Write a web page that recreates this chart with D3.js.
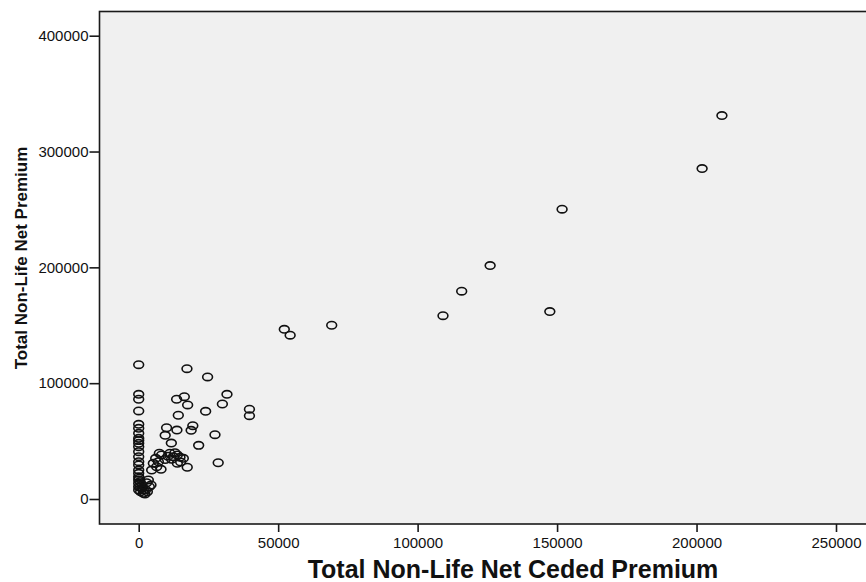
<!DOCTYPE html>
<html>
<head>
<meta charset="utf-8">
<script src="https://cdn.jsdelivr.net/npm/d3@7"></script>
<style>
  body { margin: 0; background: #fff; }
  svg { display: block; font-family: Arial, "Liberation Sans", sans-serif; }
</style>
</head>
<body>
<div id="chart"></div>
<script>
// values: x = net ceded premium, y = net premium
var cededPremium = [
    // column at zero ceded
    0, 0, 0, 0, 0, 0, 0, 0, 0, 0, 0, 0, 0, 0, 0, 0, 0, 0, 0, 0, 0, 0,
    // upper scatter
    17300, 24700, 13600, 16350, 17550, 14200, 24000, 31650, 30000, 39700, 39700,
    10000, 13700, 9500, 19400, 18800, 11700, 21500, 27350, 28500, 17400,
    // middle cluster
    6100, 7400, 8200, 5250, 7050, 4650, 6450, 8000, 11200, 12400, 13850, 14800,
    16000, 11800, 13850, 15050, 13000, 9500, 10500,
    // bottom of the V
    1100, 1650, 2250, 3100, 3800, 4400, 3450, 2850, 500, 500, 200, 700, 1650, 2500, 1200,
    // large companies
    52200, 54300, 69200, 109100, 115800, 126000, 147400, 151800, 202000, 209100
];
var netPremium = [
    116000, 90400, 86100, 76000, 64500, 61000, 56700, 52400, 50400, 48100, 45200,
    40900, 36500, 32200, 29400, 25000, 22200, 19300, 16400, 13550, 10600, 7800,
    112500, 105400, 86100, 88350, 81200, 72300, 75700, 90400, 82000, 77500, 71900,
    61500, 59500, 55000, 63300, 59300, 48300, 46300, 55500, 31300, 27400,
    35100, 39500, 38000, 30800, 32200, 25000, 27900, 25600, 39500, 36500, 38000, 36000,
    35100, 34300, 30800, 32000, 40000, 34000, 37000,
    9200, 4900, 4300, 6300, 10600, 12100, 16400, 14100, 10600, 15000, 17900, 6300, 7800, 8000, 12000,
    146500, 141400, 150000, 158300, 179400, 201500, 161800, 250200, 285300, 331000
];
var xTicks = [0, 50000, 100000, 150000, 200000, 250000];
var yTicks = [0, 100000, 200000, 300000, 400000];

var width = 866;
var height = 582;

// plot frame (runs off the right edge like the original export)
var frameLeft = 99.5, frameTop = 11.5, frameRight = 930, frameBottom = 524;

var x = d3.scaleLinear().domain([0, 250000]).range([138.7, 836]);
var y = d3.scaleLinear().domain([0, 400000]).range([499, 35.7]);

var svg = d3.select("#chart")
    .append("svg")
    .attr("width", width)
    .attr("height", height);

// grey plot area
svg.append("rect")
    .attr("x", frameLeft)
    .attr("y", frameTop)
    .attr("width", frameRight - frameLeft)
    .attr("height", frameBottom - frameTop)
    .style("fill", "#f0f0f0")
    .style("stroke", "#1a1a1a")
    .style("stroke-width", 1.6);

// x axis
var xAxis = svg.append("g")
    .attr("transform", "translate(0," + frameBottom + ")")
    .call(d3.axisBottom(x).tickValues(xTicks).tickSize(8).tickPadding(5).tickFormat(d3.format("d")));

// y axis
var yAxis = svg.append("g")
    .attr("transform", "translate(" + frameLeft + ",0)")
    .call(d3.axisLeft(y).tickValues(yTicks).tickSize(10).tickPadding(1).tickFormat(d3.format("d")));

[xAxis, yAxis].forEach(function (g) {
    g.select(".domain").remove();
    g.selectAll(".tick line").style("stroke", "#1a1a1a").style("stroke-width", 1.6);
    g.selectAll(".tick text")
        .style("font-family", "Arial, 'Liberation Sans', sans-serif")
        .style("font-size", "15px")
        .style("fill", "#111");
});

// points
svg.append("g")
    .selectAll("ellipse")
    .data(cededPremium.map(function (v, i) { return [v, netPremium[i]]; }))
    .enter()
    .append("ellipse")
    .attr("cx", function (d) { return x(d[0]); })
    .attr("cy", function (d) { return y(d[1]); })
    .attr("rx", 4.9)
    .attr("ry", 3.7)
    .style("fill", "none")
    .style("stroke", "#111")
    .style("stroke-width", 1.6);

// axis titles
svg.append("text")
    .attr("x", 513)
    .attr("y", 578)
    .attr("text-anchor", "middle")
    .style("font-size", "25px")
    .style("font-weight", "bold")
    .style("fill", "#111")
    .text("Total Non-Life Net Ceded Premium");

svg.append("text")
    .attr("transform", "translate(27,258) rotate(-90)")
    .attr("text-anchor", "middle")
    .style("font-size", "17px")
    .style("font-weight", "bold")
    .style("fill", "#111")
    .text("Total Non-Life Net Premium");
</script>
</body>
</html>
